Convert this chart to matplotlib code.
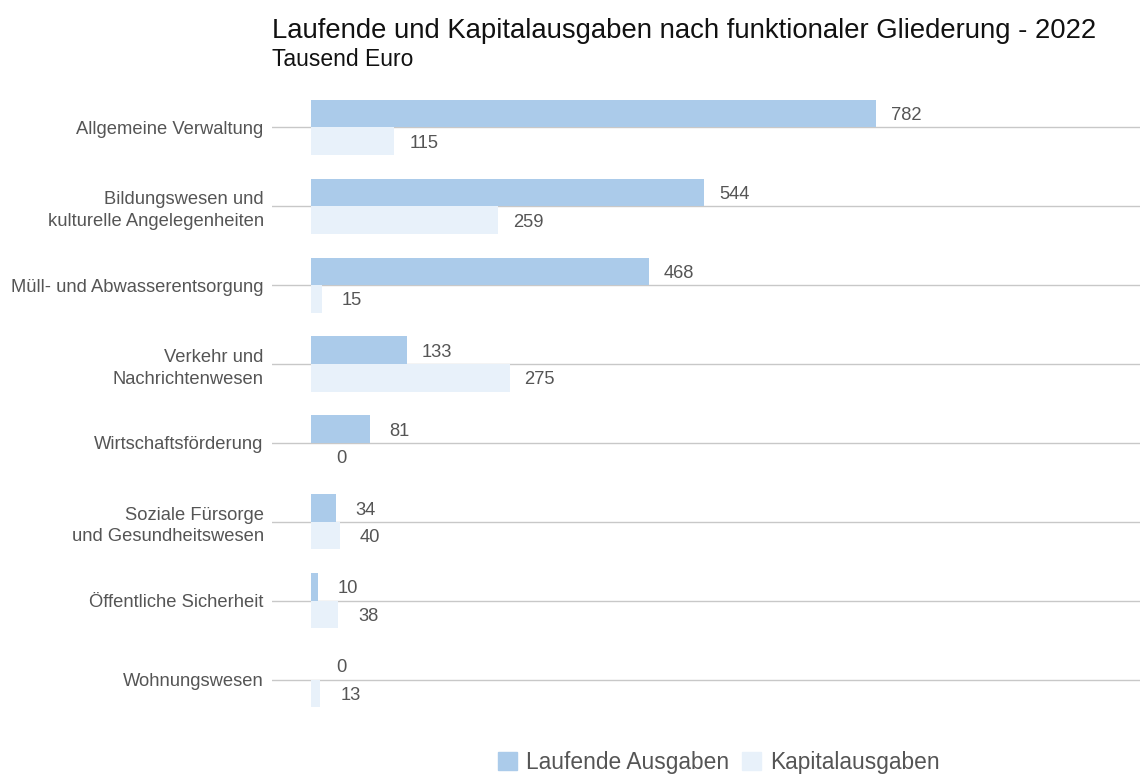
import matplotlib.pyplot as plt
from matplotlib.patches import Patch
import numpy as np

plt.rcParams['font.family'] = ['Liberation Sans', 'DejaVu Sans']

categories = ['Allgemeine Verwaltung', 'Bildungswesen und\nkulturelle Angelegenheiten',
              'Müll- und Abwasserentsorgung', 'Verkehr und\nNachrichtenwesen',
              'Wirtschaftsförderung', 'Soziale Fürsorge\nund Gesundheitswesen',
              'Öffentliche Sicherheit', 'Wohnungswesen']
laufende = [782, 544, 468, 133, 81, 34, 10, 0]
kapital = [115, 259, 15, 275, 0, 40, 38, 13]

c_lauf = '#abcbea'
c_kap = '#e8f1fa'
txt = '#555555'

fig = plt.figure(figsize=(11.45, 7.75), dpi=100)
ax = fig.add_axes([272 / 1145, 1 - 727 / 775, (1140 - 272) / 1145, (727 - 80) / 775])

y = np.arange(len(categories))
h = 0.35
ax.barh(y - h / 2, laufende, height=h, color=c_lauf, zorder=2)
ax.barh(y + h / 2, kapital, height=h, color=c_kap, zorder=2)

for yi in y:
    ax.axhline(yi, color='#c8c8c8', lw=1, zorder=1)

# value labels next to bar ends
for i in range(len(categories)):
    ax.annotate(str(laufende[i]), (laufende[i], y[i] - h / 2), xytext=(30, -2),
                textcoords='offset pixels', ha='center', va='center', fontsize=13.2, color=txt)
    ax.annotate(str(kapital[i]), (kapital[i], y[i] + h / 2), xytext=(30, -2),
                textcoords='offset pixels', ha='center', va='center', fontsize=13.2, color=txt)

ax.set_xlim(-54, 1147)
ax.set_ylim(len(categories) - 0.4, -0.6)
ax.set_yticks(y)
ax.set_yticklabels(categories, fontsize=13.2, color=txt, linespacing=1.35)
ax.tick_params(axis='y', length=0, pad=6)
ax.set_xticks([])
for s in ax.spines.values():
    s.set_visible(False)

fig.text(272 / 1145, 1 - 31 / 775, 'Laufende und Kapitalausgaben nach funktionaler Gliederung - 2022',
         fontsize=19.8, color='#111111', va='center', ha='left')
fig.text(272 / 1145, 1 - 59 / 775, 'Tausend Euro', fontsize=16.5, color='#111111', va='center', ha='left')

handles = [Patch(color=c_lauf, label='Laufende Ausgaben'), Patch(color=c_kap, label='Kapitalausgaben')]
leg = fig.legend(handles=handles, loc='center', bbox_to_anchor=(719 / 1145, 1 - 762 / 775), ncol=2,
                 frameon=False, fontsize=16.4, handlelength=0.85, handleheight=0.85, columnspacing=0.55,
                 handletextpad=0.4)
for t in leg.get_texts():
    t.set_color(txt)

fig.savefig('out.png', dpi=100)
